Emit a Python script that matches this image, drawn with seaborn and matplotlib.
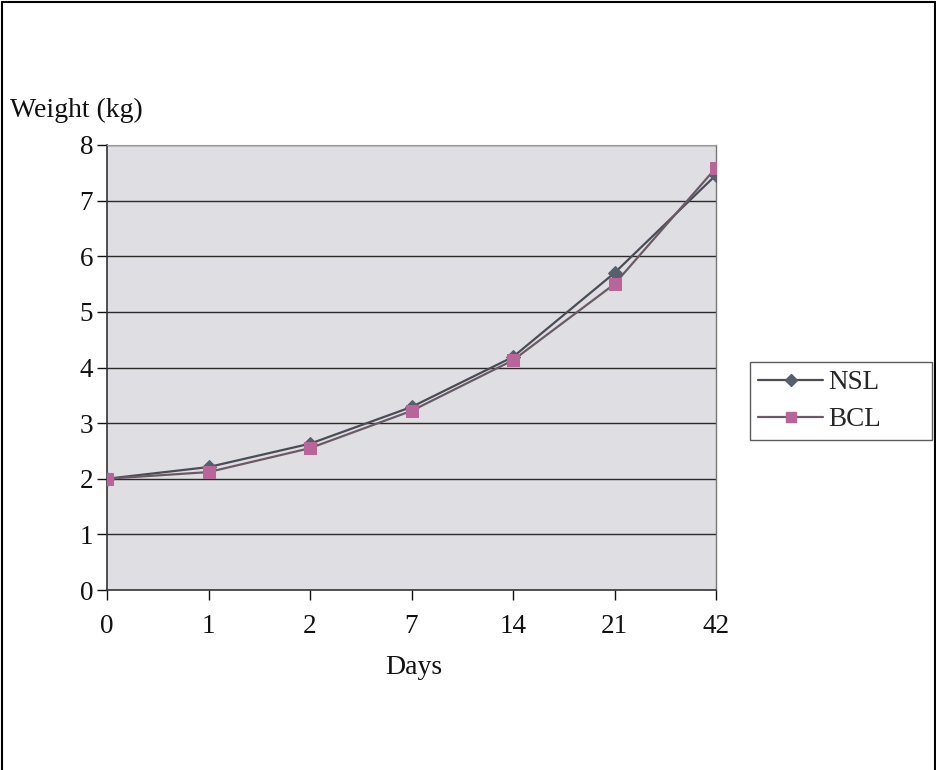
import matplotlib
matplotlib.use("Agg")
import matplotlib.pyplot as plt
import seaborn as sns
import pandas as pd
from matplotlib.lines import Line2D

days = ["0", "1", "2", "7", "14", "21", "42"]
nsl = [2.0, 2.21, 2.63, 3.29, 4.19, 5.70, 7.46]
bcl = [2.0, 2.12, 2.55, 3.22, 4.13, 5.50, 7.59]
series_names = ["NSL", "BCL"]
y_ticks = [0, 1, 2, 3, 4, 5, 6, 7, 8]

sns.set_theme(style="white")
plt.rcParams["font.family"] = ["Liberation Serif", "DejaVu Serif"]

df = pd.DataFrame({
    "pos": list(range(len(days))) * 2,
    "Weight": nsl + bcl,
    "Series": [series_names[0]] * len(days) + [series_names[1]] * len(days),
})

fig = plt.figure(figsize=(9.37, 7.7), dpi=100)
ax = fig.add_axes([107 / 937, 1 - 590 / 770, (716 - 107) / 937, (590 - 145) / 770])
ax.set_facecolor("#dfdfe3")

ax.set_axisbelow(True)
for y in y_ticks[1:]:
    ax.axhline(y, color="#2a2a2a", lw=1.0, zorder=1)

line_cols = {"NSL": "#4a4d58", "BCL": "#6a5a66"}
mk_cols = {"NSL": "#55606c", "BCL": "#b8659a"}
markers = {"NSL": "D", "BCL": "s"}
msize = {"NSL": 7, "BCL": 8}
for name in series_names:
    sub = df[df["Series"] == name]
    sns.lineplot(data=sub, x="pos", y="Weight", ax=ax, color=line_cols[name],
                 lw=1.6, marker=markers[name], markersize=msize[name],
                 markerfacecolor=mk_cols[name], markeredgecolor=mk_cols[name],
                 legend=False, zorder=3)

ax.set_xlim(0, len(days) - 1)
ax.set_ylim(0, 8)
ax.set_xticks(range(len(days)))
ax.set_xticklabels(days)
ax.set_yticks(y_ticks)
ax.tick_params(axis="both", labelsize=19.5, colors="#111111", length=7, width=1,
               direction="out", left=True, bottom=True)
ax.tick_params(axis="x", pad=10)
ax.tick_params(axis="y", pad=3)
for s in ["left", "bottom"]:
    ax.spines[s].set_color("#333333")
    ax.spines[s].set_linewidth(1.2)
ax.spines["right"].set_color("#777777")
ax.spines["right"].set_linewidth(1.0)
ax.spines["top"].set_color("#999999")
ax.spines["top"].set_linewidth(0.8)

ax.set_xlabel("")
ax.set_ylabel("")
fig.text(414 / 937, 1 - 667 / 770, "Days", ha="center", va="center", fontsize=20, color="#111111")
fig.text(10 / 937, 1 - 110 / 770, "Weight (kg)", ha="left", va="center", fontsize=20, color="#111111")

handles = [Line2D([0], [0], color=line_cols[n], lw=1.6, marker=markers[n],
                  markersize=msize[n] - 1, markerfacecolor=mk_cols[n],
                  markeredgecolor=mk_cols[n]) for n in series_names]
leg = fig.legend(handles, series_names, loc="upper left", mode="expand",
                 bbox_to_anchor=(750 / 937, 1 - 436 / 770, 182 / 937, 74 / 770),
                 fontsize=19.5, frameon=True, fancybox=False, edgecolor="#333333",
                 handlelength=2.4, handletextpad=0.2, borderpad=0.3,
                 labelspacing=0.45, borderaxespad=0)
leg.get_frame().set_linewidth(1.0)

# outer border (top, left, right)
fig.add_artist(Line2D([2 / 937, 935 / 937], [1 - 2 / 770, 1 - 2 / 770], color="black", lw=1.5))
fig.add_artist(Line2D([2 / 937, 2 / 937], [0, 1 - 2 / 770], color="black", lw=1.5))
fig.add_artist(Line2D([935 / 937, 935 / 937], [0, 1 - 2 / 770], color="black", lw=1.5))

fig.savefig("out.png", dpi=100)
